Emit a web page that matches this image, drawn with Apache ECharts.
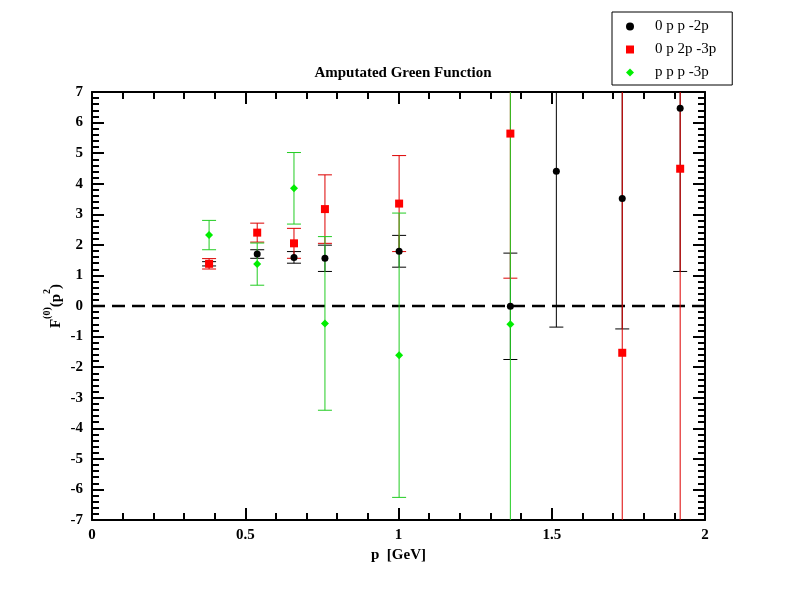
<!DOCTYPE html>
<html>
<head>
<meta charset="utf-8">
<script src="https://cdn.jsdelivr.net/npm/echarts@6/dist/echarts.min.js"></script>
<style>
html,body{margin:0;padding:0;background:#fff;}
#chart{width:792px;height:612px;}
</style>
</head>
<body>
<div id="chart"></div>
<script>
// ---- data ----
const seriesNames = ['0 p p -2p', '0 p 2p -3p', 'p p p -3p'];

const xBlack = [0.382, 0.539, 0.659, 0.760, 1.002, 1.365, 1.515, 1.730, 1.919];
const yBlack = [1.38, 1.70, 1.59, 1.56, 1.79, -0.01, 4.41, 3.52, 6.47];
const eBlack = [0.07, 0.14, 0.19, 0.43, 0.52, 1.74, 5.10, 4.27, 5.34];

const xRed = [0.382, 0.539, 0.659, 0.760, 1.002, 1.365, 1.730, 1.919];
const yRed = [1.38, 2.40, 2.05, 3.17, 3.35, 5.64, -1.53, 4.49];
const eRed = [0.17, 0.31, 0.49, 1.12, 1.57, 4.73, 12.0, 14.0];

const xGreen = [0.382, 0.539, 0.659, 0.760, 1.002, 1.365];
const yGreen = [2.32, 1.37, 3.85, -0.57, -1.61, -0.60];
const eGreen = [0.48, 0.69, 1.17, 2.84, 4.65, 10.0];

const xTicks = [0, 0.5, 1, 1.5, 2];
const yRange = [-7, 7];

// ---- build ----
const FONT = 'Liberation Serif';
function pts(xs, ys) { return xs.map((x, i) => [x, ys[i]]); }
function bars(xs, ys, es) { return xs.map((x, i) => [x, ys[i] - es[i], ys[i] + es[i]]); }

function errRender(color) {
  return function (params, api) {
    const x = api.value(0), lo = api.value(1), hi = api.value(2);
    const cs = params.coordSys;
    const top = cs.y, bot = cs.y + cs.height;
    const pLo = api.coord([x, lo]);
    const pHi = api.coord([x, hi]);
    const px = pLo[0];
    const y1 = Math.max(pHi[1], top), y2 = Math.min(pLo[1], bot);
    const style = { stroke: color, lineWidth: 1 };
    const children = [{ type: 'line', shape: { x1: px, y1: y1, x2: px, y2: y2 }, style: style }];
    const hw = 7;
    if (pHi[1] >= top && pHi[1] <= bot) children.push({ type: 'line', shape: { x1: px - hw, y1: pHi[1], x2: px + hw, y2: pHi[1] }, style: style });
    if (pLo[1] >= top && pLo[1] <= bot) children.push({ type: 'line', shape: { x1: px - hw, y1: pLo[1], x2: px + hw, y2: pLo[1] }, style: style });
    return { type: 'group', children: children };
  };
}

const colors = ['#000000', '#ff0000', '#00ee00'];
const lineColors = ['#000000', '#dd0000', '#22cc22'];

const axisCommon = {
  axisLine: { show: true, onZero: false, lineStyle: { color: '#000', width: 2 } },
  axisTick: { show: true, inside: true, length: 12, lineStyle: { color: '#000', width: 2 } },
  minorTick: { show: true, splitNumber: 5, length: 7, lineStyle: { color: '#000', width: 2 } },
  splitLine: { show: false },
  minorSplitLine: { show: false }
};

const labelStyle = { fontFamily: FONT, fontWeight: 'bold', fontSize: 15, color: '#000' };

const option = {
  backgroundColor: '#fff',
  animation: false,
  title: {
    text: 'Amputated Green Function',
    left: 398, top: 61, textAlign: 'center',
    textStyle: { fontFamily: FONT, fontWeight: 'bold', fontSize: 15, color: '#000' }
  },
  legend: {
    orient: 'vertical',
    left: 612, top: 12,
    data: seriesNames,
    itemWidth: 8, itemHeight: 8, itemGap: 6,
    padding: [6, 16, 4, 14],
    borderColor: '#000', borderWidth: 1,
    selectedMode: false,
    textStyle: { fontFamily: FONT, fontSize: 15, color: '#000', padding: [0, 0, 0, 16], lineHeight: 17 }
  },
  grid: { left: 92, right: 87, top: 92, bottom: 92 },
  xAxis: [
    Object.assign({}, axisCommon, {
      type: 'value', min: xTicks[0], max: xTicks[xTicks.length - 1], interval: 0.5,
      position: 'bottom',
      axisLabel: Object.assign({ margin: 8 }, labelStyle),
      name: 'p  [GeV]', nameLocation: 'middle', nameGap: 21,
      nameTextStyle: labelStyle
    }),
    Object.assign({}, axisCommon, {
      type: 'value', min: xTicks[0], max: xTicks[xTicks.length - 1], interval: 0.5,
      position: 'top', axisLabel: { show: false }
    })
  ],
  yAxis: [
    Object.assign({}, axisCommon, {
      type: 'value', min: yRange[0], max: yRange[1], interval: 1,
      position: 'left',
      axisLabel: Object.assign({ margin: 9 }, labelStyle),
      name: '{b|F}{s|(0)}{b|(p}{s|2}{b|)}',
      nameLocation: 'middle', nameGap: 28, nameRotate: 90,
      nameMoveOverlap: false,
      nameTextStyle: {
        rich: {
          b: { fontFamily: FONT, fontWeight: 'bold', fontSize: 15, color: '#000', lineHeight: 22, verticalAlign: 'bottom' },
          s: { fontFamily: FONT, fontWeight: 'bold', fontSize: 10, color: '#000', lineHeight: 12, verticalAlign: 'top' }
        }
      }
    }),
    Object.assign({}, axisCommon, {
      type: 'value', min: yRange[0], max: yRange[1], interval: 1,
      position: 'right', axisLabel: { show: false }
    })
  ],
  series: [
    { type: 'line', data: [[xTicks[0], 0], [xTicks[xTicks.length - 1], 0]], symbol: 'none', silent: true,
      lineStyle: { color: '#000', width: 2.5, type: [13, 7] }, z: 1 },
    { type: 'custom', data: bars(xBlack, yBlack, eBlack), renderItem: errRender(lineColors[0]), z: 2 },
    { type: 'custom', data: bars(xRed, yRed, eRed), renderItem: errRender(lineColors[1]), z: 2 },
    { type: 'custom', data: bars(xGreen, yGreen, eGreen), renderItem: errRender(lineColors[2]), z: 2 },
    { name: seriesNames[0], type: 'scatter', data: pts(xBlack, yBlack), symbol: 'circle', symbolSize: 7,
      itemStyle: { color: colors[0], opacity: 1 }, z: 3 },
    { name: seriesNames[1], type: 'scatter', data: pts(xRed, yRed), symbol: 'rect', symbolSize: 8,
      itemStyle: { color: colors[1], opacity: 1 }, z: 3 },
    { name: seriesNames[2], type: 'scatter', data: pts(xGreen, yGreen), symbol: 'diamond', symbolSize: 8,
      itemStyle: { color: colors[2], opacity: 1 }, z: 3 }
  ]
};

const chart = echarts.init(document.getElementById('chart'), null, { renderer: 'canvas' });
chart.setOption(option);
</script>
</body>
</html>
